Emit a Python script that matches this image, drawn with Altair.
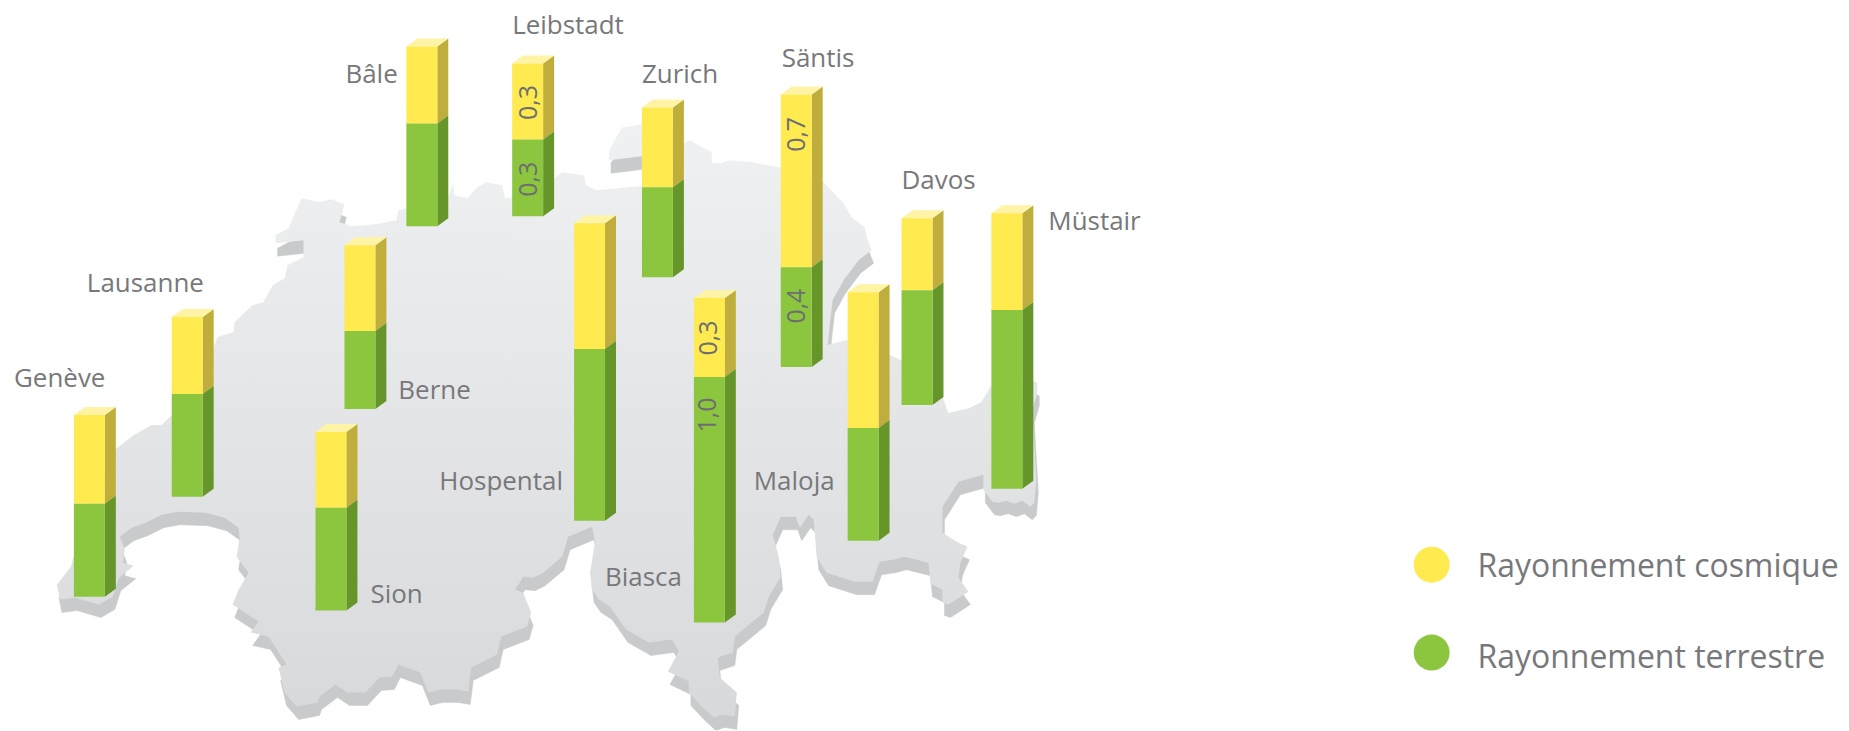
import altair as alt
import pandas as pd

# Stations: front face of each 3D column (page pixels)
stations = ["Genève", "Lausanne", "Berne", "Sion", "Bâle", "Leibstadt", "Hospental",
            "Zurich", "Biasca", "Säntis", "Maloja", "Davos", "Müstair"]
left =     [74, 172, 345, 316, 407, 513, 575, 643, 695, 782, 849, 903, 993]
top =      [415, 317, 245, 432, 46, 63, 223, 107, 298, 94, 292, 218, 213]
boundary = [504, 394, 331, 508, 123, 139, 349, 187, 377, 267, 428, 290, 310]
base =     [597, 497, 409, 611, 226, 216, 521, 277, 623, 367, 541, 405, 489]
BAR_W, DX, DY = 31, 11, 8

label_x = [14, 87, 399, 371, 346, 513, 440, 643, 606, 783, 755, 903, 1050]
label_y = [387, 292, 399, 603, 83, 33, 490, 83, 586, 67, 490, 189, 230]

value_text = ["0,3", "0,3", "0,7", "0,4", "0,3", "1,0"]
value_x = [530, 530, 798, 798, 710, 709]
value_y = [102, 179, 134, 306, 338, 415]

legend_names = ["Rayonnement cosmique", "Rayonnement terrestre"]
legend_colors = ["#ffea50", "#8cc63f"]
legend_cx = [1434, 1434]
legend_cy = [565, 653]
legend_tx = [1480, 1480]
legend_ty = [577, 668]

# Map outline
main_outline = [
    (57,585),(71,567),(90,500),(115,450),(134,435),(152,425),(162,425),(172,415),(214,347),(218,337),(234,332),(235,322),
    (253,305),(264,302),(273,285),(285,278),(288,265),(304,257),(304,240),(276,243),(276,235),(289,228),(302,198),
    (320,202),(332,199),(345,204),(340,222),(352,226),(376,224),(397,220),(399,210),(449,197),(454,183),(455,195),
    (468,198),(478,187),(487,182),(503,185),(506,198),(513,197),(555,178),(563,172),(585,175),(587,185),(597,190),
    (620,188),(650,185),(683,165),(683,143),(692,140),(696,143),(713,152),(713,163),(722,163),(730,160),(753,162),(780,167),
    (823,180),(845,203),(853,217),(866,227),(869,240),(873,250),(860,260),(845,280),(834,300),(832,317),(829,345),(848,340),
    (880,350),(902,360),(933,397),(944,397),(950,413),(971,408),(983,402),(992,387),(1034,380),(1039,383),(1039,393),
    (1034,410),(1038,480),(1036,503),(1032,507),(1024,501),(1016,504),(1008,501),(1000,503),(994,502),(985,490),
    (985,475),(960,482),(944,507),(944,533),(958,542),(969,547),(962,563),(960,578),
    (970,592),(950,605),(944,603),(944,590),(932,584),(930,563),(906,557),(895,560),(881,562),(874,582),(856,582),
    (828,573),(818,557),(815,520),(810,515),(801,528),(797,517),(782,517),(774,535),(780,557),(782,577),(770,597),
    (765,613),(736,637),(734,653),(719,658),(721,678),(738,693),(736,717),(724,715),(715,718),(703,707),(690,693),
    (690,682),(669,672),(680,652),(673,640),(650,643),(627,630),(611,607),(600,600),(593,590),(591,573),(596,542),
    (593,527),(569,537),(563,557),(544,573),(534,578),(524,577),(516,590),(524,593),(532,613),(528,627),(502,637),
    (498,655),(472,668),(469,692),(457,690),(441,690),(429,693),(421,673),(399,665),(393,677),(380,678),(366,693),
    (348,693),(336,685),(320,697),(318,703),(297,707),(285,693),(279,668),(287,665),(269,637),(251,633),(259,622),
    (233,605),(239,590),(249,573),(237,557),(240,538),(239,528),(225,518),(206,513),(178,512),(162,515),(146,523),
    (132,528),(120,537),(125,550),(123,563),(134,566),(119,578),(113,597),(99,605),(75,598),(60,600),
]
north_outline = [(610,150),(623,127),(642,124),(673,118),(673,150),(642,156),(610,160)]
SHADOW_DX, SHADOW_DY = 2, 13
ORIGIN = 8


def poly(points, dx=0, dy=0):
    ring = [[x + dx - ORIGIN, y + dy - ORIGIN] for x, y in points]
    return ring + [ring[0]]


def feature(dx=0, dy=0):
    return {
        "type": "Feature",
        "properties": {},
        "geometry": {"type": "MultiPolygon",
                     "coordinates": [[poly(main_outline, dx, dy)], [poly(north_outline, dx, dy)]]},
    }


projection = dict(type="identity", scale=1, translate=[0, 0])
shadow = alt.Chart(alt.Data(values=[feature(SHADOW_DX, SHADOW_DY)])).mark_geoshape(
    fill="#c9cacc", stroke="#c9cacc", strokeWidth=0.5).project(**projection)
surface = alt.Chart(alt.Data(values=[feature()])).mark_geoshape(
    fill=alt.Gradient(gradient="linear", x1=0, y1=0, x2=0, y2=1,
                      stops=[alt.GradientStop(color="#f0f1f2", offset=0),
                             alt.GradientStop(color="#d8d9db", offset=1)]),
    strokeWidth=0).project(**projection)

x_scale = alt.Scale(domain=[8, 1844], range=[0, 1836], nice=False, zero=False)
y_scale = alt.Scale(domain=[8, 731], range=[0, 723], nice=False, zero=False)
X = alt.X("x:Q", scale=x_scale, axis=None)
Y = alt.Y("y:Q", scale=y_scale, axis=None)

front_rows, side_rows, top_rows = [], [], []
for s, l, t, b, g in zip(stations, left, top, boundary, base):
    r = l + BAR_W
    front_rows += [dict(x=l, x2=r, y=t, y2=b, c="#ffea50"), dict(x=l, x2=r, y=b, y2=g, c="#8cc63f")]
    for part, yt, yb, col in ((s + "y", t, b, "#bfae3c"), (s + "g", b, g, "#66962a")):
        side_rows += [dict(k=part, x=r, y=yt, y2=yb, c=col), dict(k=part, x=r + DX, y=yt - DY, y2=yb - DY, c=col)]
    top_rows += [dict(k=s, x=l, y=t, y2=t), dict(k=s, x=l + DX, y=t, y2=t - DY),
                 dict(k=s, x=r, y=t, y2=t - DY), dict(k=s, x=r + DX, y=t - DY, y2=t - DY)]

sides = alt.Chart(pd.DataFrame(side_rows)).mark_area(interpolate="linear", opacity=1).encode(
    x=X, y=Y, y2="y2:Q", detail="k:N", color=alt.Color("c:N", scale=None))
tops = alt.Chart(pd.DataFrame(top_rows)).mark_area(interpolate="linear", color="#fff3a6", opacity=1).encode(
    x=X, y=Y, y2="y2:Q", detail="k:N")
fronts = alt.Chart(pd.DataFrame(front_rows)).mark_rect().encode(
    x=X, x2="x2:Q", y=Y, y2="y2:Q", color=alt.Color("c:N", scale=None))

FONT = "Open Sans"
GREY = "#77787b"
labels = alt.Chart(pd.DataFrame(dict(x=label_x, y=label_y, t=stations))).mark_text(
    align="left", baseline="alphabetic", font=FONT, fontSize=26, color=GREY).encode(x=X, y=Y, text="t:N")
values = alt.Chart(pd.DataFrame(dict(x=value_x, y=value_y, t=value_text))).mark_text(
    align="center", baseline="middle", font=FONT, fontSize=25, angle=270, color="#6d6e71").encode(x=X, y=Y, text="t:N")
dots = alt.Chart(pd.DataFrame(dict(x=legend_cx, y=legend_cy, c=legend_colors))).mark_point(
    shape="circle", filled=True, size=1296, opacity=1).encode(x=X, y=Y, color=alt.Color("c:N", scale=None))
legend_text = alt.Chart(pd.DataFrame(dict(x=legend_tx, y=legend_ty, t=legend_names))).mark_text(
    align="left", baseline="alphabetic", font=FONT, fontSize=32, color=GREY).encode(x=X, y=Y, text="t:N")

chart = alt.layer(
    shadow, surface, sides, tops, fronts, labels, values, dots, legend_text
).properties(width=1836, height=723, padding=0, autosize=alt.AutoSizeParams(type="none"),
             background="#ffffff").configure_view(stroke=None)

chart.save("out.html", embed_options={"renderer": "svg", "actions": False})
